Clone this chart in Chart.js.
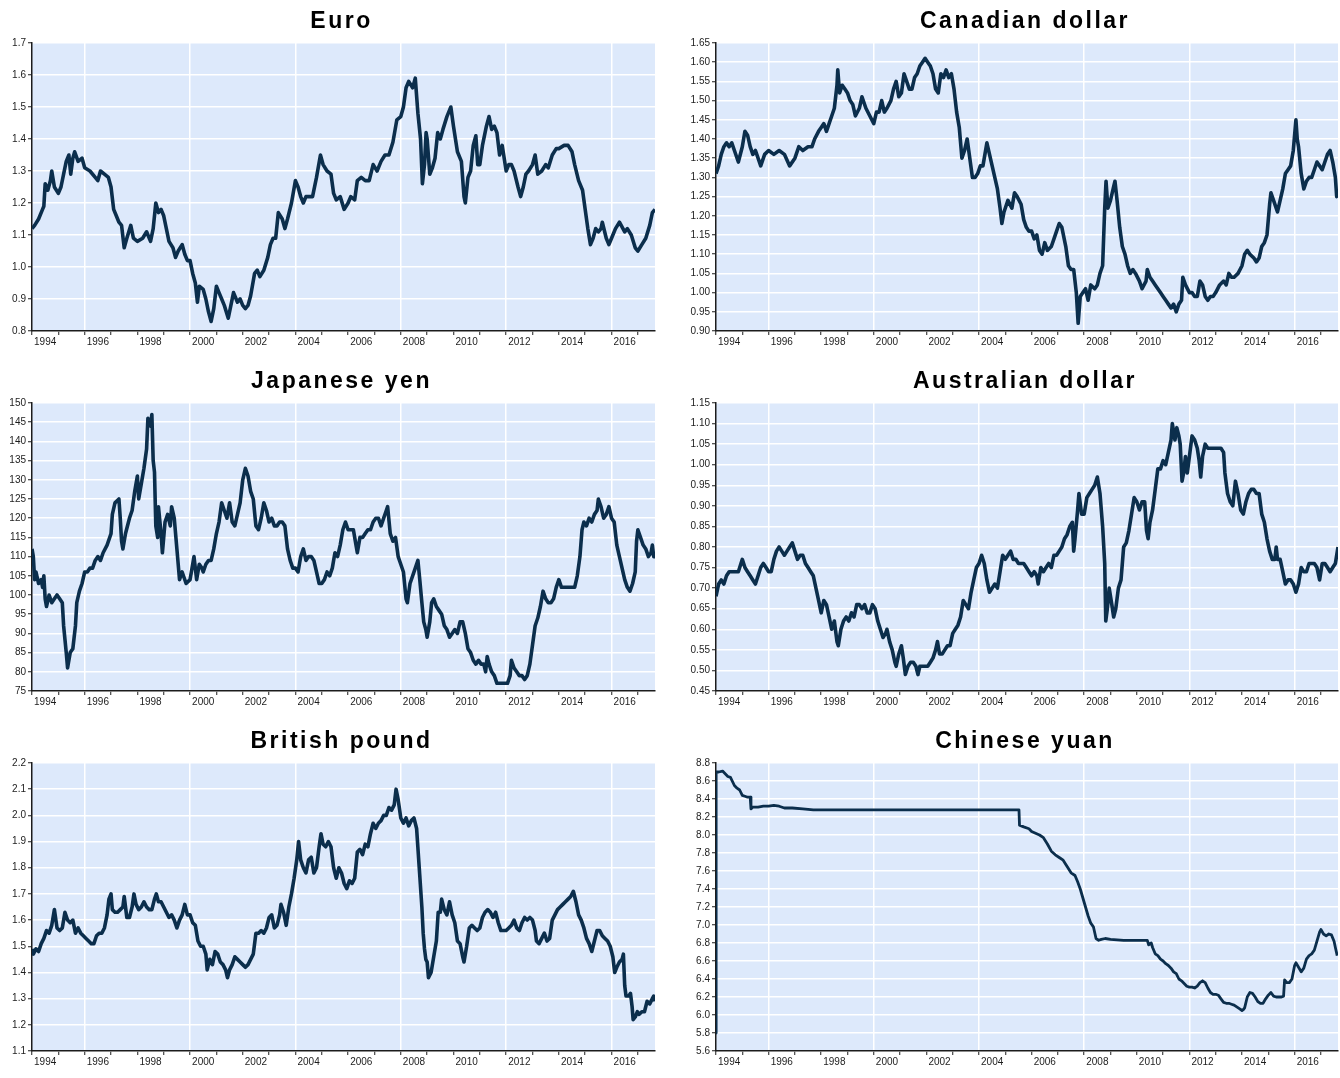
<!DOCTYPE html>
<html>
<head>
<meta charset="utf-8">
<title>Exchange rates against the US dollar</title>
<script src="https://cdn.jsdelivr.net/npm/chart.js@4.4.1/dist/chart.umd.min.js"></script>
<style>
  html, body { margin: 0; padding: 0; background: #fff; }
  body { position: relative; width: 1340px; height: 1078px; overflow: hidden; }
  canvas { position: absolute; }
</style>
</head>
<body>
<canvas id="chart-eur" width="670" height="360" style="left:0;top:0"></canvas>
<canvas id="chart-cad" width="670" height="360" style="left:670px;top:0"></canvas>
<canvas id="chart-jpy" width="670" height="360" style="left:0;top:360px"></canvas>
<canvas id="chart-aud" width="670" height="360" style="left:670px;top:360px"></canvas>
<canvas id="chart-gbp" width="670" height="360" style="left:0;top:720px"></canvas>
<canvas id="chart-cny" width="670" height="360" style="left:670px;top:720px"></canvas>
<script>
// x axis: decimal years, labels on even years, white grid every 4 years
const X_START = 1994;
const X_END = 2017.65;
const yearLabels = ['1994', '1996', '1998', '2000', '2002', '2004', '2006', '2008', '2010', '2012', '2014', '2016'];
const gridYears = [1996, 2000, 2004, 2008, 2012, 2016];

// Euro
const eurDates = [
  1994.0, 1994.1, 1994.25, 1994.4, 1994.45, 1994.5, 1994.6, 1994.7, 1994.75, 1994.85,
  1995.0, 1995.1, 1995.2, 1995.3, 1995.4, 1995.47, 1995.55, 1995.62, 1995.75, 1995.9,
  1996.0, 1996.2, 1996.4, 1996.5, 1996.6, 1996.75, 1996.9,
  1997.0, 1997.1, 1997.2, 1997.3, 1997.4, 1997.5, 1997.6, 1997.75, 1997.85,
  1998.0, 1998.2, 1998.35, 1998.5, 1998.6, 1998.7, 1998.8, 1998.9,
  1999.0, 1999.1, 1999.2, 1999.35, 1999.45, 1999.55, 1999.7, 1999.8, 1999.9,
  2000.0, 2000.1, 2000.2, 2000.28, 2000.35, 2000.5, 2000.6, 2000.7, 2000.8, 2000.9,
  2001.0, 2001.1, 2001.2, 2001.3, 2001.45, 2001.55, 2001.65, 2001.8, 2001.9,
  2002.0, 2002.1, 2002.2, 2002.3, 2002.45, 2002.55, 2002.65, 2002.8, 2002.95,
  2003.05, 2003.15, 2003.25, 2003.35, 2003.5, 2003.6, 2003.7, 2003.85,
  2004.0, 2004.1, 2004.2, 2004.3, 2004.4, 2004.5, 2004.65, 2004.8, 2004.95,
  2005.05, 2005.2, 2005.35, 2005.45, 2005.55, 2005.7, 2005.85,
  2006.0, 2006.1, 2006.25, 2006.35, 2006.5, 2006.65, 2006.8, 2006.95,
  2007.1, 2007.25, 2007.4, 2007.55, 2007.7, 2007.85,
  2008.0, 2008.1, 2008.2, 2008.3, 2008.45, 2008.55, 2008.65, 2008.75, 2008.82, 2008.9, 2008.96,
  2009.0, 2009.1, 2009.2, 2009.3, 2009.4, 2009.5, 2009.6, 2009.75, 2009.9,
  2010.0, 2010.15, 2010.3, 2010.4, 2010.45, 2010.55, 2010.65, 2010.75, 2010.85, 2010.92,
  2011.0, 2011.1, 2011.25, 2011.35, 2011.45, 2011.55, 2011.65, 2011.75, 2011.85,
  2012.0, 2012.1, 2012.2, 2012.3, 2012.45, 2012.55, 2012.65, 2012.75, 2012.85,
  2013.0, 2013.1, 2013.2, 2013.35, 2013.5, 2013.6, 2013.75, 2013.9,
  2014.0, 2014.2, 2014.35, 2014.5, 2014.6, 2014.75, 2014.9,
  2015.0, 2015.1, 2015.2, 2015.3, 2015.4, 2015.5, 2015.6, 2015.65, 2015.8, 2015.9,
  2016.0, 2016.15, 2016.3, 2016.5, 2016.6, 2016.75, 2016.9,
  2017.0, 2017.15, 2017.3, 2017.45, 2017.55, 2017.65
];
const eurRates = [
  1.12, 1.13, 1.15, 1.18, 1.19, 1.26, 1.24, 1.27, 1.30, 1.25,
  1.23, 1.25, 1.29, 1.33, 1.35, 1.29, 1.34, 1.36, 1.33, 1.34,
  1.31, 1.30, 1.28, 1.27, 1.30, 1.29, 1.28,
  1.25, 1.18, 1.16, 1.14, 1.13, 1.06, 1.09, 1.13, 1.09,
  1.08, 1.09, 1.11, 1.08, 1.12, 1.20, 1.17, 1.18,
  1.16, 1.12, 1.08, 1.06, 1.03, 1.05, 1.07, 1.04, 1.02,
  1.02, 0.98, 0.95, 0.89, 0.94, 0.93, 0.90, 0.86, 0.83, 0.87,
  0.94, 0.92, 0.90, 0.88, 0.84, 0.88, 0.92, 0.89, 0.90,
  0.88, 0.87, 0.88, 0.91, 0.98, 0.99, 0.97, 0.99, 1.03,
  1.07, 1.09, 1.09, 1.17, 1.15, 1.12, 1.15, 1.20,
  1.27, 1.25, 1.22, 1.20, 1.22, 1.22, 1.22, 1.28, 1.35,
  1.32, 1.30, 1.29, 1.23, 1.21, 1.22, 1.18,
  1.20, 1.22, 1.21, 1.27, 1.28, 1.27, 1.27, 1.32,
  1.30, 1.33, 1.35, 1.35, 1.39, 1.46,
  1.47, 1.50, 1.56, 1.58, 1.56, 1.59, 1.48, 1.40, 1.26, 1.32, 1.42,
  1.40, 1.29, 1.31, 1.34, 1.42, 1.40, 1.43, 1.47, 1.50,
  1.44, 1.36, 1.33, 1.22, 1.20, 1.28, 1.30, 1.38, 1.41, 1.32,
  1.32, 1.38, 1.44, 1.47, 1.43, 1.44, 1.42, 1.35, 1.38,
  1.30, 1.32, 1.32, 1.30, 1.25, 1.22, 1.25, 1.29, 1.30,
  1.32, 1.35, 1.29, 1.30, 1.32, 1.31, 1.35, 1.37,
  1.37, 1.38, 1.38, 1.36, 1.32, 1.27, 1.24,
  1.18, 1.12, 1.07, 1.09, 1.12, 1.11, 1.12, 1.14, 1.09, 1.07,
  1.09, 1.12, 1.14, 1.11, 1.12, 1.10, 1.06,
  1.05, 1.07, 1.09, 1.13, 1.17, 1.18
];

// Canadian dollar
const cadDates = [
  1994.0, 1994.1, 1994.2, 1994.3, 1994.4, 1994.5, 1994.6, 1994.7, 1994.85,
  1995.0, 1995.1, 1995.2, 1995.3, 1995.4, 1995.5, 1995.6, 1995.7, 1995.85,
  1996.0, 1996.2, 1996.4, 1996.6, 1996.8,
  1997.0, 1997.15, 1997.3, 1997.5, 1997.65, 1997.75, 1997.9,
  1998.0, 1998.1, 1998.2, 1998.3, 1998.4, 1998.5, 1998.6, 1998.63, 1998.7, 1998.8, 1998.9,
  1999.0, 1999.1, 1999.2, 1999.3, 1999.45, 1999.55, 1999.7, 1999.85,
  2000.0, 2000.1, 2000.2, 2000.3, 2000.4, 2000.5, 2000.65, 2000.75, 2000.85, 2000.95,
  2001.05, 2001.15, 2001.25, 2001.35, 2001.45, 2001.55, 2001.65, 2001.75, 2001.85, 2001.95,
  2002.05, 2002.15, 2002.25, 2002.35, 2002.45, 2002.55, 2002.65, 2002.75, 2002.85, 2002.95,
  2003.05, 2003.15, 2003.25, 2003.35, 2003.45, 2003.55, 2003.65, 2003.75, 2003.85, 2003.95,
  2004.05, 2004.15, 2004.3, 2004.4, 2004.5, 2004.6, 2004.7, 2004.8, 2004.87, 2004.95,
  2005.1, 2005.25, 2005.35, 2005.45, 2005.6, 2005.7, 2005.8, 2005.9,
  2006.0, 2006.1, 2006.2, 2006.3, 2006.4, 2006.5, 2006.6, 2006.75, 2006.85, 2006.95,
  2007.05, 2007.15, 2007.3, 2007.4, 2007.5, 2007.6, 2007.7, 2007.77, 2007.85, 2007.95,
  2008.05, 2008.15, 2008.25, 2008.4, 2008.5, 2008.6, 2008.7, 2008.78, 2008.83, 2008.9,
  2009.0, 2009.1, 2009.17, 2009.25, 2009.35, 2009.45, 2009.55, 2009.65, 2009.75, 2009.85, 2009.95,
  2010.1, 2010.2, 2010.35, 2010.4, 2010.5, 2010.6, 2010.7, 2010.8, 2010.9,
  2011.0, 2011.1, 2011.2, 2011.3, 2011.4, 2011.5, 2011.6, 2011.7, 2011.75, 2011.85,
  2012.0, 2012.1, 2012.2, 2012.3, 2012.4, 2012.5, 2012.6, 2012.7, 2012.8, 2012.9,
  2013.0, 2013.15, 2013.3, 2013.4, 2013.5, 2013.6, 2013.7, 2013.85,
  2014.0, 2014.1, 2014.2, 2014.3, 2014.45, 2014.55, 2014.65, 2014.75, 2014.85, 2014.95,
  2015.05, 2015.1, 2015.2, 2015.3, 2015.35, 2015.45, 2015.55, 2015.65, 2015.75, 2015.85, 2015.95,
  2016.05, 2016.1, 2016.15, 2016.25, 2016.35, 2016.45, 2016.55, 2016.65, 2016.75, 2016.85, 2016.95,
  2017.05, 2017.15, 2017.25, 2017.35, 2017.45, 2017.55, 2017.6, 2017.65
];
const cadRates = [
  1.31, 1.33, 1.36, 1.38, 1.39, 1.38, 1.39, 1.37, 1.34,
  1.38, 1.42, 1.41, 1.38, 1.36, 1.37, 1.35, 1.33, 1.36,
  1.37, 1.36, 1.37, 1.36, 1.33,
  1.35, 1.38, 1.37, 1.38, 1.38, 1.40, 1.42,
  1.43, 1.44, 1.42, 1.44, 1.46, 1.48, 1.54, 1.58, 1.52, 1.54, 1.53,
  1.52, 1.50, 1.49, 1.46, 1.48, 1.51, 1.48, 1.46,
  1.44, 1.47, 1.47, 1.50, 1.47, 1.48, 1.50, 1.53, 1.55, 1.51,
  1.52, 1.57, 1.55, 1.53, 1.53, 1.56, 1.57, 1.59, 1.60, 1.61,
  1.60, 1.59, 1.57, 1.53, 1.52, 1.57, 1.56, 1.58, 1.56, 1.57,
  1.53, 1.47, 1.43, 1.35, 1.37, 1.40, 1.35, 1.30, 1.30, 1.31,
  1.33, 1.33, 1.39, 1.36, 1.33, 1.30, 1.27, 1.22, 1.18, 1.21,
  1.24, 1.22, 1.26, 1.25, 1.23, 1.19, 1.17, 1.16,
  1.16, 1.14, 1.15, 1.11, 1.10, 1.13, 1.11, 1.12, 1.14, 1.16,
  1.18, 1.17, 1.12, 1.07, 1.06, 1.06, 1.00, 0.92, 0.99, 1.00,
  1.01, 0.98, 1.02, 1.01, 1.02, 1.05, 1.07, 1.22, 1.29, 1.22,
  1.24, 1.27, 1.29, 1.24, 1.17, 1.12, 1.10, 1.07, 1.05, 1.06, 1.05,
  1.03, 1.01, 1.03, 1.06, 1.04, 1.03, 1.02, 1.01, 1.00,
  0.99, 0.98, 0.97, 0.96, 0.97, 0.95, 0.97, 0.98, 1.04, 1.02,
  1.00, 1.00, 0.99, 0.99, 1.03, 1.02, 0.99, 0.98, 0.99, 0.99,
  1.00, 1.02, 1.03, 1.02, 1.05, 1.04, 1.04, 1.05,
  1.07, 1.10, 1.11, 1.10, 1.09, 1.08, 1.09, 1.12, 1.13, 1.15,
  1.23, 1.26, 1.24, 1.22, 1.21, 1.24, 1.27, 1.31, 1.32, 1.33, 1.37,
  1.45, 1.40, 1.38, 1.31, 1.27, 1.29, 1.30, 1.30, 1.32, 1.34, 1.33,
  1.32, 1.34, 1.36, 1.37, 1.34, 1.30, 1.25, 1.26
];

// Japanese yen
const jpyDates = [
  1994.0, 1994.05, 1994.1, 1994.15, 1994.25, 1994.35, 1994.4, 1994.45, 1994.5, 1994.55, 1994.65, 1994.75, 1994.85, 1994.95,
  1995.05, 1995.15, 1995.2, 1995.3, 1995.35, 1995.45, 1995.55, 1995.65, 1995.7, 1995.8, 1995.9,
  1996.0, 1996.1, 1996.2, 1996.3, 1996.4, 1996.5, 1996.6, 1996.7, 1996.85,
  1997.0, 1997.05, 1997.15, 1997.3, 1997.35, 1997.4, 1997.45, 1997.55, 1997.7, 1997.8, 1997.9,
  1998.0, 1998.05, 1998.15, 1998.25, 1998.35, 1998.4, 1998.5, 1998.55, 1998.6, 1998.65, 1998.7, 1998.77, 1998.8, 1998.9, 1998.95,
  1999.05, 1999.15, 1999.25, 1999.3, 1999.4, 1999.5, 1999.6, 1999.7, 1999.85,
  2000.0, 2000.05, 2000.15, 2000.25, 2000.35, 2000.45, 2000.5, 2000.6, 2000.7, 2000.8, 2000.9,
  2001.0, 2001.1, 2001.2, 2001.3, 2001.4, 2001.5, 2001.6, 2001.7, 2001.8, 2001.9,
  2002.0, 2002.1, 2002.2, 2002.3, 2002.4, 2002.5, 2002.6, 2002.7, 2002.8, 2002.9,
  2003.0, 2003.1, 2003.2, 2003.3, 2003.4, 2003.5, 2003.6, 2003.7, 2003.8, 2003.9,
  2004.0, 2004.1, 2004.2, 2004.3, 2004.4, 2004.5, 2004.6, 2004.7, 2004.8, 2004.9,
  2005.0, 2005.1, 2005.2, 2005.3, 2005.4, 2005.5, 2005.6, 2005.7, 2005.8, 2005.9,
  2006.0, 2006.1, 2006.2, 2006.3, 2006.35, 2006.45, 2006.55, 2006.65, 2006.75, 2006.85, 2006.95,
  2007.05, 2007.15, 2007.25, 2007.35, 2007.45, 2007.5, 2007.6, 2007.7, 2007.8, 2007.9,
  2008.0, 2008.1, 2008.2, 2008.25, 2008.35, 2008.45, 2008.55, 2008.65, 2008.72, 2008.8, 2008.87, 2008.95,
  2009.0, 2009.1, 2009.17, 2009.25, 2009.35, 2009.45, 2009.55, 2009.65, 2009.75, 2009.85, 2009.95,
  2010.05, 2010.15, 2010.25, 2010.35, 2010.45, 2010.55, 2010.65, 2010.75, 2010.85, 2010.95,
  2011.05, 2011.15, 2011.22, 2011.28, 2011.35, 2011.45, 2011.55, 2011.65, 2011.75, 2011.85, 2011.95,
  2012.05, 2012.15, 2012.2, 2012.3, 2012.4, 2012.5, 2012.6, 2012.7, 2012.8, 2012.9,
  2013.0, 2013.1, 2013.2, 2013.3, 2013.4, 2013.5, 2013.6, 2013.7, 2013.8, 2013.9,
  2014.0, 2014.1, 2014.2, 2014.3, 2014.4, 2014.5, 2014.6, 2014.7, 2014.8, 2014.88, 2014.95,
  2015.05, 2015.15, 2015.25, 2015.35, 2015.45, 2015.5, 2015.6, 2015.7, 2015.8, 2015.9,
  2016.0, 2016.1, 2016.2, 2016.3, 2016.4, 2016.5, 2016.6, 2016.7, 2016.8, 2016.9, 2016.95,
  2017.0, 2017.1, 2017.2, 2017.3, 2017.4, 2017.5, 2017.55, 2017.6, 2017.65
];
const jpyRates = [
  112, 110, 104, 106, 103, 104, 102, 105, 99, 97, 100, 98, 99, 100,
  99, 98, 92, 85, 81, 85, 86, 92, 98, 101, 103,
  106, 106, 107, 107, 109, 110, 109, 111, 113,
  116, 121, 124, 125, 120, 114, 112, 116, 120, 122, 127,
  131, 125, 129, 133, 138, 146, 144, 147, 135, 132, 118, 115, 123, 116, 111,
  119, 121, 118, 123, 120, 112, 104, 106, 103,
  104, 106, 110, 104, 108, 107, 106, 108, 109, 109, 112,
  116, 119, 124, 122, 120, 124, 119, 118, 121, 124,
  130, 133, 131, 127, 125, 118, 117, 120, 124, 122,
  119, 120, 118, 118, 119, 119, 118, 112, 109, 107,
  107, 106, 110, 112, 109, 110, 110, 109, 106, 103,
  103, 104, 106, 105, 107, 111, 110, 113, 117, 119,
  117, 117, 117, 113, 111, 115, 115, 116, 117, 117, 119,
  120, 120, 118, 120, 122, 123, 116, 114, 115, 110,
  108, 106, 99, 98, 103, 105, 107, 109, 104, 98, 93, 91,
  89, 93, 98, 99, 97, 96, 95, 92, 91, 89, 90,
  91, 90, 93, 93, 90, 86, 85, 83, 82, 83,
  82, 82, 80, 84, 82, 80, 79, 77, 77, 77, 77,
  77, 79, 83, 81, 80, 79, 79, 78, 79, 82,
  87, 92, 94, 97, 101, 99, 98, 98, 99, 102,
  104, 102, 102, 102, 102, 102, 102, 105, 110, 117, 119,
  118, 120, 119, 121, 122, 125, 123, 120, 121, 123,
  120, 119, 113, 110, 107, 104, 102, 101, 103, 106, 114,
  117, 115, 113, 112, 110, 111, 113, 110, 110
];

// Australian dollar
const audDates = [
  1994.0, 1994.1, 1994.2, 1994.3, 1994.4, 1994.5, 1994.6, 1994.7, 1994.85,
  1995.0, 1995.1, 1995.2, 1995.3, 1995.4, 1995.5, 1995.6, 1995.7, 1995.8, 1995.9,
  1996.0, 1996.1, 1996.2, 1996.3, 1996.4, 1996.5, 1996.6, 1996.7, 1996.8, 1996.9,
  1997.0, 1997.1, 1997.2, 1997.3, 1997.4, 1997.5, 1997.6, 1997.7, 1997.8, 1997.9,
  1998.0, 1998.1, 1998.2, 1998.3, 1998.4, 1998.5, 1998.6, 1998.65, 1998.75, 1998.85, 1998.95,
  1999.05, 1999.15, 1999.25, 1999.35, 1999.45, 1999.55, 1999.65, 1999.75, 1999.85, 1999.95,
  2000.05, 2000.15, 2000.25, 2000.35, 2000.45, 2000.5, 2000.6, 2000.7, 2000.8, 2000.85, 2000.95,
  2001.05, 2001.12, 2001.2, 2001.3, 2001.4, 2001.5, 2001.6, 2001.68, 2001.75, 2001.85, 2001.95,
  2002.05, 2002.15, 2002.25, 2002.35, 2002.42, 2002.5, 2002.6, 2002.7, 2002.8, 2002.9,
  2003.0, 2003.1, 2003.2, 2003.3, 2003.4, 2003.5, 2003.6, 2003.7, 2003.8, 2003.9,
  2004.0, 2004.1, 2004.2, 2004.3, 2004.4, 2004.5, 2004.6, 2004.7, 2004.8, 2004.9,
  2005.0, 2005.1, 2005.2, 2005.3, 2005.4, 2005.5, 2005.6, 2005.7, 2005.8, 2005.9,
  2006.0, 2006.1, 2006.2, 2006.25, 2006.35, 2006.45, 2006.55, 2006.65, 2006.75, 2006.85, 2006.95,
  2007.05, 2007.15, 2007.25, 2007.35, 2007.45, 2007.55, 2007.6, 2007.65, 2007.75, 2007.8, 2007.9,
  2008.0, 2008.1, 2008.2, 2008.3, 2008.4, 2008.5, 2008.6, 2008.7, 2008.78, 2008.82, 2008.88, 2008.95,
  2009.05, 2009.12, 2009.2, 2009.3, 2009.4, 2009.5, 2009.6, 2009.7, 2009.8, 2009.9,
  2010.0, 2010.1, 2010.2, 2010.3, 2010.37, 2010.43, 2010.5, 2010.6, 2010.7, 2010.8, 2010.9,
  2011.0, 2011.1, 2011.2, 2011.3, 2011.35, 2011.45, 2011.52, 2011.6, 2011.65, 2011.72, 2011.78, 2011.85, 2011.92,
  2012.0, 2012.1, 2012.2, 2012.3, 2012.37, 2012.43, 2012.5, 2012.6, 2012.7, 2012.8, 2012.9,
  2013.0, 2013.1, 2013.2, 2013.3, 2013.35, 2013.45, 2013.55, 2013.65, 2013.75, 2013.85, 2013.95,
  2014.05, 2014.15, 2014.25, 2014.35, 2014.45, 2014.55, 2014.65, 2014.75, 2014.85, 2014.95,
  2015.05, 2015.15, 2015.25, 2015.3, 2015.35, 2015.45, 2015.55, 2015.65, 2015.75, 2015.85, 2015.95,
  2016.05, 2016.15, 2016.25, 2016.35, 2016.45, 2016.55, 2016.65, 2016.75, 2016.85, 2016.95,
  2017.05, 2017.15, 2017.25, 2017.35, 2017.45, 2017.55, 2017.65
];
const audRates = [
  0.68, 0.71, 0.72, 0.71, 0.73, 0.74, 0.74, 0.74, 0.74,
  0.77, 0.75, 0.74, 0.73, 0.72, 0.71, 0.73, 0.75, 0.76, 0.75,
  0.74, 0.74, 0.77, 0.79, 0.80, 0.79, 0.78, 0.79, 0.80, 0.81,
  0.79, 0.77, 0.78, 0.78, 0.76, 0.75, 0.74, 0.73, 0.70, 0.67,
  0.64, 0.67, 0.66, 0.63, 0.60, 0.62, 0.57, 0.56, 0.60, 0.62, 0.63,
  0.62, 0.64, 0.63, 0.66, 0.66, 0.65, 0.66, 0.64, 0.64, 0.66,
  0.65, 0.62, 0.60, 0.58, 0.59, 0.60, 0.57, 0.55, 0.52, 0.51, 0.54,
  0.56, 0.53, 0.49, 0.51, 0.52, 0.52, 0.51, 0.49, 0.51, 0.51, 0.51,
  0.51, 0.52, 0.53, 0.55, 0.57, 0.54, 0.54, 0.55, 0.56, 0.56,
  0.59, 0.60, 0.61, 0.63, 0.67, 0.66, 0.65, 0.69, 0.72, 0.75,
  0.76, 0.78, 0.76, 0.72, 0.69, 0.70, 0.71, 0.70, 0.74, 0.78,
  0.77, 0.78, 0.79, 0.77, 0.77, 0.76, 0.76, 0.76, 0.75, 0.74,
  0.73, 0.74, 0.73, 0.71, 0.75, 0.74, 0.75, 0.76, 0.75, 0.78, 0.78,
  0.79, 0.80, 0.82, 0.83, 0.85, 0.86, 0.79, 0.82, 0.89, 0.93, 0.88,
  0.88, 0.92, 0.93, 0.94, 0.95, 0.97, 0.93, 0.85, 0.76, 0.62, 0.65, 0.70,
  0.66, 0.63, 0.65, 0.70, 0.72, 0.80, 0.81, 0.84, 0.88, 0.92,
  0.91, 0.89, 0.91, 0.91, 0.84, 0.82, 0.86, 0.89, 0.94, 0.99, 0.99,
  1.01, 1.00, 1.03, 1.06, 1.10, 1.06, 1.09, 1.07, 1.05, 0.96, 0.98, 1.02, 0.98,
  1.02, 1.07, 1.06, 1.04, 1.01, 0.97, 1.02, 1.05, 1.04, 1.04, 1.04,
  1.04, 1.04, 1.04, 1.03, 0.98, 0.93, 0.91, 0.90, 0.96, 0.93, 0.89,
  0.88, 0.91, 0.93, 0.94, 0.94, 0.93, 0.93, 0.88, 0.86, 0.82,
  0.79, 0.77, 0.77, 0.80, 0.77, 0.77, 0.74, 0.71, 0.72, 0.72, 0.71,
  0.69, 0.71, 0.75, 0.74, 0.74, 0.76, 0.76, 0.76, 0.75, 0.72,
  0.76, 0.76, 0.75, 0.74, 0.75, 0.76, 0.80
];

// British pound
const gbpDates = [
  1994.0, 1994.05, 1994.15, 1994.25, 1994.35, 1994.45, 1994.55, 1994.65, 1994.75, 1994.85, 1994.95,
  1995.05, 1995.15, 1995.25, 1995.35, 1995.45, 1995.55, 1995.65, 1995.75, 1995.85, 1995.95,
  1996.05, 1996.15, 1996.25, 1996.35, 1996.45, 1996.55, 1996.65, 1996.75, 1996.85, 1996.92,
  1997.0, 1997.05, 1997.15, 1997.25, 1997.35, 1997.45, 1997.5, 1997.6, 1997.7, 1997.8, 1997.87, 1997.95,
  1998.05, 1998.15, 1998.25, 1998.35, 1998.45, 1998.55, 1998.65, 1998.72, 1998.8, 1998.9,
  1999.0, 1999.1, 1999.2, 1999.3, 1999.4, 1999.5, 1999.6, 1999.7, 1999.8, 1999.9,
  2000.0, 2000.1, 2000.2, 2000.3, 2000.4, 2000.5, 2000.6, 2000.65, 2000.75, 2000.85, 2000.95,
  2001.05, 2001.15, 2001.25, 2001.35, 2001.42, 2001.5, 2001.6, 2001.7, 2001.8, 2001.9,
  2002.0, 2002.1, 2002.2, 2002.3, 2002.4, 2002.5, 2002.6, 2002.7, 2002.8, 2002.9,
  2003.0, 2003.1, 2003.2, 2003.3, 2003.4, 2003.45, 2003.55, 2003.65, 2003.75, 2003.85, 2003.95,
  2004.05, 2004.12, 2004.2, 2004.3, 2004.4, 2004.5, 2004.6, 2004.7, 2004.8, 2004.9, 2004.97,
  2005.05, 2005.15, 2005.25, 2005.35, 2005.45, 2005.55, 2005.65, 2005.75, 2005.85, 2005.95,
  2006.05, 2006.15, 2006.25, 2006.35, 2006.45, 2006.55, 2006.65, 2006.75, 2006.85, 2006.95,
  2007.05, 2007.15, 2007.25, 2007.35, 2007.45, 2007.55, 2007.65, 2007.75, 2007.82, 2007.9,
  2008.0, 2008.1, 2008.2, 2008.3, 2008.4, 2008.5, 2008.6, 2008.7, 2008.8, 2008.85, 2008.9, 2008.95,
  2009.0, 2009.05, 2009.15, 2009.25, 2009.35, 2009.42, 2009.5, 2009.55, 2009.65, 2009.75, 2009.85, 2009.95,
  2010.05, 2010.15, 2010.25, 2010.35, 2010.4, 2010.5, 2010.6, 2010.7, 2010.8, 2010.9,
  2011.0, 2011.1, 2011.2, 2011.3, 2011.4, 2011.5, 2011.6, 2011.7, 2011.8, 2011.9,
  2012.0, 2012.1, 2012.2, 2012.3, 2012.4, 2012.5, 2012.6, 2012.7, 2012.8, 2012.9,
  2013.0, 2013.1, 2013.15, 2013.25, 2013.35, 2013.45, 2013.55, 2013.65, 2013.75, 2013.85, 2013.95,
  2014.05, 2014.15, 2014.25, 2014.35, 2014.45, 2014.55, 2014.65, 2014.75, 2014.85, 2014.95,
  2015.05, 2015.15, 2015.25, 2015.35, 2015.45, 2015.55, 2015.65, 2015.75, 2015.85, 2015.95,
  2016.05, 2016.12, 2016.2, 2016.3, 2016.4, 2016.45, 2016.5, 2016.55, 2016.65, 2016.72, 2016.78, 2016.82, 2016.9, 2016.98,
  2017.05, 2017.15, 2017.25, 2017.35, 2017.45, 2017.55, 2017.6, 2017.65
];
const gbpRates = [
  1.49, 1.47, 1.49, 1.48, 1.51, 1.53, 1.56, 1.55, 1.58, 1.64, 1.57,
  1.56, 1.57, 1.63, 1.60, 1.59, 1.60, 1.55, 1.57, 1.55, 1.54,
  1.53, 1.52, 1.51, 1.51, 1.54, 1.55, 1.55, 1.57, 1.62, 1.68,
  1.70, 1.64, 1.63, 1.63, 1.64, 1.65, 1.69, 1.61, 1.61, 1.65, 1.70, 1.66,
  1.64, 1.65, 1.67, 1.65, 1.64, 1.64, 1.68, 1.70, 1.67, 1.67,
  1.65, 1.63, 1.61, 1.62, 1.60, 1.57, 1.60, 1.62, 1.66, 1.62,
  1.62, 1.59, 1.58, 1.52, 1.50, 1.50, 1.47, 1.41, 1.45, 1.43, 1.48,
  1.47, 1.44, 1.43, 1.41, 1.38, 1.41, 1.43, 1.46, 1.45, 1.44,
  1.43, 1.42, 1.43, 1.45, 1.47, 1.55, 1.55, 1.56, 1.55, 1.57,
  1.61, 1.62, 1.57, 1.58, 1.62, 1.66, 1.63, 1.58, 1.65, 1.70, 1.76,
  1.83, 1.90, 1.83, 1.80, 1.78, 1.83, 1.84, 1.78, 1.80, 1.88, 1.93,
  1.89, 1.88, 1.90, 1.88, 1.80, 1.76, 1.80, 1.78, 1.74, 1.72,
  1.75, 1.74, 1.76, 1.86, 1.87, 1.85, 1.89, 1.88, 1.93, 1.97,
  1.95, 1.97, 1.98, 2.00, 2.00, 2.03, 2.02, 2.04, 2.10, 2.06,
  1.99, 1.97, 1.99, 1.96, 1.98, 1.99, 1.95, 1.80, 1.65, 1.55, 1.49, 1.45,
  1.44, 1.38, 1.40, 1.46, 1.52, 1.63, 1.63, 1.68, 1.64, 1.62, 1.67, 1.62,
  1.59, 1.52, 1.51, 1.46, 1.44, 1.50, 1.57, 1.58, 1.57, 1.56,
  1.57, 1.61, 1.63, 1.64, 1.63, 1.61, 1.63, 1.59, 1.56, 1.56,
  1.56, 1.57, 1.58, 1.60, 1.57, 1.56, 1.59, 1.61, 1.60, 1.61,
  1.60, 1.56, 1.52, 1.51, 1.53, 1.55, 1.52, 1.53, 1.60, 1.62, 1.64,
  1.65, 1.66, 1.67, 1.68, 1.69, 1.71, 1.67, 1.62, 1.60, 1.57,
  1.53, 1.51, 1.48, 1.52, 1.56, 1.56, 1.54, 1.53, 1.52, 1.50,
  1.46, 1.40, 1.42, 1.44, 1.45, 1.47, 1.35, 1.31, 1.31, 1.32, 1.27, 1.22, 1.23, 1.25,
  1.24, 1.25, 1.25, 1.29, 1.28, 1.30, 1.31, 1.29
];

// Chinese yuan
const cnyDates = [
  1994.0, 1994.005, 1994.1, 1994.25, 1994.35, 1994.45, 1994.55, 1994.7, 1994.8, 1994.9,
  1995.0, 1995.1, 1995.2, 1995.3, 1995.33, 1995.4, 1995.6, 1995.8,
  1996.0, 1996.2, 1996.4, 1996.6, 1996.9, 1997.3, 1997.7, 1998.0, 2002.0, 2005.52, 2005.54,
  2005.7, 2005.9, 2006.0, 2006.15, 2006.3, 2006.45, 2006.6, 2006.75, 2006.9,
  2007.05, 2007.2, 2007.35, 2007.5, 2007.65, 2007.75, 2007.85, 2007.95,
  2008.05, 2008.15, 2008.25, 2008.35, 2008.45, 2008.55, 2008.65, 2008.8, 2009.0, 2009.5, 2010.0, 2010.4,
  2010.45, 2010.55, 2010.6, 2010.7, 2010.8, 2010.9,
  2011.0, 2011.1, 2011.2, 2011.3, 2011.4, 2011.5, 2011.6, 2011.7, 2011.8, 2011.9,
  2012.0, 2012.1, 2012.2, 2012.3, 2012.4, 2012.5, 2012.6, 2012.7, 2012.8, 2012.9,
  2013.0, 2013.1, 2013.2, 2013.3, 2013.4, 2013.5, 2013.6, 2013.7, 2013.8, 2013.9,
  2014.0, 2014.05, 2014.1, 2014.2, 2014.3, 2014.4, 2014.5, 2014.6, 2014.7, 2014.8, 2014.9,
  2015.0, 2015.1, 2015.2, 2015.3, 2015.4, 2015.5, 2015.58, 2015.62, 2015.7, 2015.8, 2015.9,
  2016.0, 2016.05, 2016.15, 2016.25, 2016.35, 2016.45, 2016.55, 2016.65, 2016.75, 2016.85, 2016.95,
  2017.0, 2017.1, 2017.2, 2017.3, 2017.4, 2017.5, 2017.55, 2017.62
];
const cnyRates = [
  5.80, 8.70, 8.70, 8.71, 8.68, 8.65, 8.64, 8.55, 8.52, 8.50,
  8.44, 8.43, 8.42, 8.42, 8.29, 8.31, 8.31, 8.32,
  8.32, 8.33, 8.32, 8.30, 8.30, 8.29, 8.28, 8.28, 8.28, 8.28, 8.11,
  8.09, 8.07, 8.04, 8.02, 8.00, 7.97, 7.90, 7.82, 7.78,
  7.75, 7.72, 7.65, 7.58, 7.55, 7.48, 7.40, 7.30,
  7.20, 7.10, 7.02, 6.98, 6.85, 6.83, 6.84, 6.85, 6.84, 6.83, 6.83, 6.83,
  6.78, 6.80, 6.75, 6.68, 6.66, 6.62,
  6.60, 6.57, 6.55, 6.52, 6.48, 6.46, 6.40, 6.38, 6.35, 6.32,
  6.31, 6.31, 6.30, 6.32, 6.36, 6.38, 6.36, 6.30, 6.25, 6.23,
  6.23, 6.22, 6.18, 6.14, 6.13, 6.13, 6.12, 6.11, 6.09, 6.07,
  6.05, 6.06, 6.08, 6.20, 6.25, 6.24, 6.20, 6.15, 6.13, 6.13, 6.18,
  6.22, 6.25, 6.21, 6.20, 6.20, 6.20, 6.21, 6.39, 6.36, 6.36, 6.40,
  6.55, 6.58, 6.53, 6.48, 6.52, 6.62, 6.66, 6.68, 6.72, 6.82, 6.92,
  6.95, 6.90, 6.88, 6.90, 6.89, 6.82, 6.75, 6.66
];

const LINE_COLOR = '#0b2e4c';
const PLOT_BG = '#dde9fb';
const AXIS_COLOR = '#1c1c1c';

Chart.defaults.font.family = '"Liberation Sans", Arial, Helvetica, sans-serif';
Chart.defaults.font.size = 10;
Chart.defaults.color = AXIS_COLOR;

const panels = [
  { id: 'chart-eur', title: 'Euro', dates: eurDates, rates: eurRates, min: 0.8, max: 1.7, step: 0.1, decimals: 1, side: 'left' },
  { id: 'chart-cad', title: 'Canadian dollar', dates: cadDates, rates: cadRates, min: 0.9, max: 1.65, step: 0.05, decimals: 2, side: 'right' },
  { id: 'chart-jpy', title: 'Japanese yen', dates: jpyDates, rates: jpyRates, min: 75, max: 150, step: 5, decimals: 0, side: 'left' },
  { id: 'chart-aud', title: 'Australian dollar', dates: audDates, rates: audRates, min: 0.45, max: 1.15, step: 0.05, decimals: 2, side: 'right' },
  { id: 'chart-gbp', title: 'British pound', dates: gbpDates, rates: gbpRates, min: 1.1, max: 2.2, step: 0.1, decimals: 1, side: 'left' },
  { id: 'chart-cny', title: 'Chinese yuan', dates: cnyDates, rates: cnyRates, min: 5.6, max: 8.8, step: 0.2, decimals: 1, side: 'right', thin: true }
];

// tick marks every year, labels sit mid-year between the marks
const xTicks = [];
for (let yr = X_START; yr <= Math.floor(X_END); yr++) xTicks.push(yr);
yearLabels.forEach(label => xTicks.push(Number(label) + 0.5));
xTicks.sort((a, b) => a - b);

function xLabel(value) {
  if (Number.isInteger(value)) return '';
  const label = String(Math.floor(value));
  return yearLabels.includes(label) ? label : '';
}

// plot background and bold title above each panel
const panelFrame = {
  id: 'panelFrame',
  beforeDraw(chart) {
    const { ctx, chartArea: a } = chart;
    ctx.save();
    ctx.fillStyle = PLOT_BG;
    ctx.fillRect(a.left, a.top, a.right - a.left, a.bottom - a.top);
    ctx.restore();
  },
  afterDraw(chart, args, opts) {
    const { ctx, chartArea: a } = chart;
    ctx.save();
    ctx.font = 'bold 23px "Liberation Sans", Arial, Helvetica, sans-serif';
    if ('letterSpacing' in ctx) ctx.letterSpacing = '2.5px';
    ctx.fillStyle = '#000';
    ctx.textAlign = 'center';
    ctx.textBaseline = 'alphabetic';
    ctx.fillText(opts.text, (a.left + a.right) / 2 - 2, 28);
    ctx.restore();
  }
};

panels.forEach(panel => {
  if (panel.dates.length !== panel.rates.length) {
    throw new Error(`${panel.title}: ${panel.dates.length} dates vs ${panel.rates.length} rates`);
  }
  const isLeft = panel.side === 'left';
  const axisWidth = isLeft ? 32 : 46;
  const rightPad = isLeft ? 15 : 2;

  new Chart(document.getElementById(panel.id), {
    type: 'line',
    data: {
      datasets: [{
        data: panel.dates.map((d, i) => ({ x: d, y: panel.rates[i] })),
        borderColor: LINE_COLOR,
        borderWidth: panel.thin ? 2.8 : 3.6,
        borderJoinStyle: 'round',
        pointRadius: 0,
        tension: 0,
        fill: false
      }]
    },
    options: {
      responsive: false,
      animation: false,
      events: [],
      layout: { padding: { top: 43, right: rightPad, bottom: 0, left: 0 } },
      plugins: {
        legend: { display: false },
        tooltip: { enabled: false },
        panelFrame: { text: panel.title }
      },
      scales: {
        x: {
          type: 'linear',
          min: X_START,
          max: X_END,
          afterBuildTicks: axis => { axis.ticks = xTicks.map(v => ({ value: v })); },
          afterFit: axis => { axis.height = 29; },
          grid: {
            color: c => gridYears.includes(c.tick && c.tick.value) ? '#ffffff' : 'rgba(0,0,0,0)',
            lineWidth: 1.5,
            tickColor: c => (c.tick && Number.isInteger(c.tick.value)) ? AXIS_COLOR : 'rgba(0,0,0,0)',
            tickLength: 4,
            tickWidth: 1
          },
          border: { display: true, color: AXIS_COLOR, width: 1.5 },
          ticks: {
            autoSkip: false,
            maxRotation: 0,
            minRotation: 0,
            padding: 1,
            callback: value => xLabel(value)
          }
        },
        y: {
          type: 'linear',
          min: panel.min,
          max: panel.max,
          afterFit: axis => { axis.width = axisWidth; },
          grid: {
            color: '#ffffff',
            lineWidth: 1.5,
            tickColor: AXIS_COLOR,
            tickLength: 4,
            tickWidth: 1
          },
          border: { display: true, color: AXIS_COLOR, width: 1.5 },
          ticks: {
            stepSize: panel.step,
            padding: 2,
            callback: value => Number(value).toFixed(panel.decimals)
          }
        }
      }
    },
    plugins: [panelFrame]
  });
});
</script>
</body>
</html>
